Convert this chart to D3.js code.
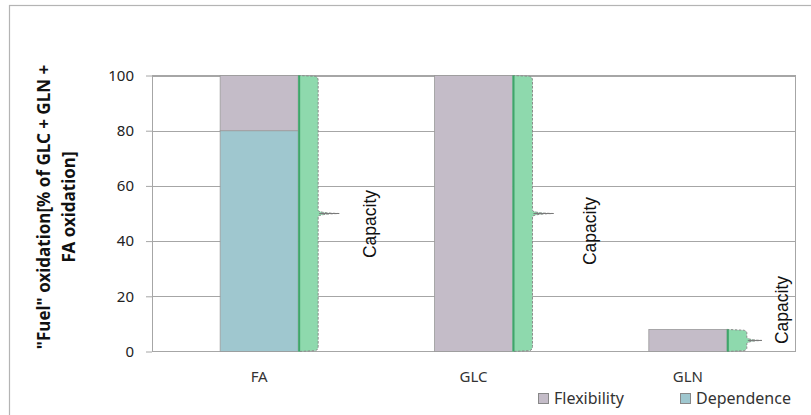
<!DOCTYPE html>
<html>
<head>
<meta charset="utf-8">
<script src="https://cdn.jsdelivr.net/npm/d3@7"></script>
<style>
  html, body { margin: 0; padding: 0; background: #fff; }
  svg { display: block; }
  text { font-family: "Noto Sans", "Open Sans", sans-serif; }
</style>
</head>
<body>
<svg id="chart" width="811" height="415"></svg>
<script>
// Fuel oxidation split per substrate
const categories = ["FA", "GLC", "GLN"];
const dependence = [80, 0, 0];
const flexibility = [20, 100, 8];
const capacity = [100, 100, 8];
const yTicks = [0, 20, 40, 60, 80, 100];
const seriesNames = ["Flexibility", "Dependence"];
const capacityLabel = "Capacity";
const yTitleLines = ['"Fuel" oxidation[% of GLC + GLN +', 'FA oxidation]'];

const colors = {
  Flexibility: "#c4bcc8",
  Dependence: "#9fc7cf",
  capFill: "#8ed9ad",
  capEdge: "#3fa56b",
  grid: "#a6a6a6"
};

const svg = d3.select("#chart");

// outer chart frame
svg.append("rect")
  .attr("x", 9.5).attr("y", 5.5)
  .attr("width", 830).attr("height", 430)
  .attr("fill", "none").attr("stroke", "#b4b4b4").attr("stroke-width", 1.2);

const plot = { left: 152, right: 795, top: 75.5, bottom: 351.5 };

const x = d3.scaleBand()
  .domain(categories)
  .range([plot.left, plot.right])
  .paddingInner(0.636)
  .paddingOuter(0.318);

const y = d3.scaleLinear()
  .domain([0, 100])
  .range([plot.bottom, plot.top]);

// y axis ticks
const yAxis = d3.axisLeft(y).tickValues(yTicks).tickSize(6).tickPadding(12);
const gy = svg.append("g").attr("transform", `translate(${plot.left},0)`).call(yAxis);
gy.select(".domain").remove();
gy.selectAll(".tick line").attr("stroke", colors.grid);
gy.selectAll(".tick text")
  .attr("font-size", 15).attr("fill", "#222")
  .style("font-family", '"Noto Sans", sans-serif');

// horizontal gridlines
svg.append("g").selectAll("line")
  .data(yTicks.filter(d => d > 0))
  .join("line")
  .attr("x1", plot.left).attr("x2", plot.right)
  .attr("y1", d => Math.round(y(d)) + 0.5).attr("y2", d => Math.round(y(d)) + 0.5)
  .attr("stroke", colors.grid).attr("stroke-width", 1);

// plot border
svg.append("rect")
  .attr("x", plot.left + 0.5).attr("y", plot.top)
  .attr("width", plot.right - plot.left).attr("height", plot.bottom - plot.top)
  .attr("fill", "none").attr("stroke", colors.grid).attr("stroke-width", 1);

// stacked bars
const stackData = categories.map((c, i) => ({ cat: c, Dependence: dependence[i], Flexibility: flexibility[i] }));
const stack = d3.stack().keys(["Dependence", "Flexibility"])(stackData);

svg.append("g").selectAll("g")
  .data(stack)
  .join("g")
  .attr("fill", d => colors[d.key])
  .selectAll("rect")
  .data(d => d.filter(p => p[1] - p[0] > 0))
  .join("rect")
  .attr("x", d => x(d.data.cat))
  .attr("y", d => y(d[1]))
  .attr("width", x.bandwidth())
  .attr("height", d => y(d[0]) - y(d[1]))
  .attr("stroke", "#9a9a9a").attr("stroke-width", 0.8);

// capacity braces beside each bar
const capW = x.bandwidth() * 0.256;
const tipLen = i => (capacity[i] > 20 ? 21 : 15);
const capG = svg.append("g");
categories.forEach((c, i) => {
  const x0 = x(c) + x.bandwidth();
  const x1 = x0 + capW;
  const yT = y(capacity[i]);
  const yB = y(0);
  const yM = y(capacity[i] / 2);
  const r = Math.min(5, (yB - yT) / 6);
  const tip = x1 + tipLen(i);

  const outline = `M${x0},${yT} L${x1 - 3},${yT + 0.8} Q${x1},${yT + 1.5} ${x1},${yT + r}`
    + ` L${x1},${yM - 3} Q${x1 + 1},${yM - 0.6} ${tip},${yM}`
    + ` Q${x1 + 1},${yM + 0.6} ${x1},${yM + 3}`
    + ` L${x1},${yB - r} Q${x1},${yB - 1.5} ${x1 - 3},${yB - 0.8} L${x0},${yB}`;

  capG.append("path")
    .attr("d", outline + " Z")
    .attr("fill", colors.capFill).attr("stroke", "none");
  capG.append("path")
    .attr("d", outline)
    .attr("fill", "none").attr("stroke", "#8a8a8a")
    .attr("stroke-width", 1).attr("stroke-dasharray", "2.5,1.5");
  capG.append("line")
    .attr("x1", x0 + 1).attr("x2", x0 + 1).attr("y1", yT).attr("y2", yB)
    .attr("stroke", colors.capEdge).attr("stroke-width", 2);
  capG.append("line")
    .attr("x1", x1 + 1).attr("x2", tip).attr("y1", yM).attr("y2", yM)
    .attr("stroke", "#7a7a7a").attr("stroke-width", 1);
});

// capacity labels (layout offsets from each brace tip)
const capLabelDx = [31, 36, 20];
const capLabelY = [224, 231, 310];
categories.forEach((c, i) => {
  const tipX = x(c) + x.bandwidth() + capW + tipLen(i);
  const lx = tipX + capLabelDx[i];
  svg.append("text")
    .attr("transform", `translate(${lx},${capLabelY[i]}) rotate(-90)`)
    .attr("text-anchor", "middle").attr("dy", "0.35em")
    .attr("font-size", 17.5).attr("fill", "#111")
    .style("font-family", '"Liberation Sans", Arial, sans-serif')
    .text(capacityLabel);
});

// category labels
svg.append("g").selectAll("text")
  .data(categories)
  .join("text")
  .attr("x", d => x(d) + x.bandwidth() / 2)
  .attr("y", 382)
  .attr("text-anchor", "middle")
  .attr("font-size", 15).attr("fill", "#333")
  .text(d => d);

// y-axis title
const yTitle = svg.append("text")
  .attr("transform", "rotate(-90)")
  .attr("text-anchor", "middle")
  .attr("font-size", 17).attr("font-weight", "bold").attr("fill", "#111");
yTitleLines.forEach((t, i) => {
  yTitle.append("tspan")
    .attr("x", -207).attr("y", 50 + i * 25)
    .text(t);
});

// legend
const legendX = [538, 680];
const legend = svg.append("g");
seriesNames.forEach((s, i) => {
  legend.append("rect")
    .attr("x", legendX[i] + 0.5).attr("y", 393.5)
    .attr("width", 10).attr("height", 10)
    .attr("fill", colors[s]).attr("stroke", "#888").attr("stroke-width", 1);
  legend.append("text")
    .attr("x", legendX[i] + 16).attr("y", 404)
    .attr("font-size", 16).attr("fill", "#333")
    .text(s);
});
</script>
</body>
</html>
